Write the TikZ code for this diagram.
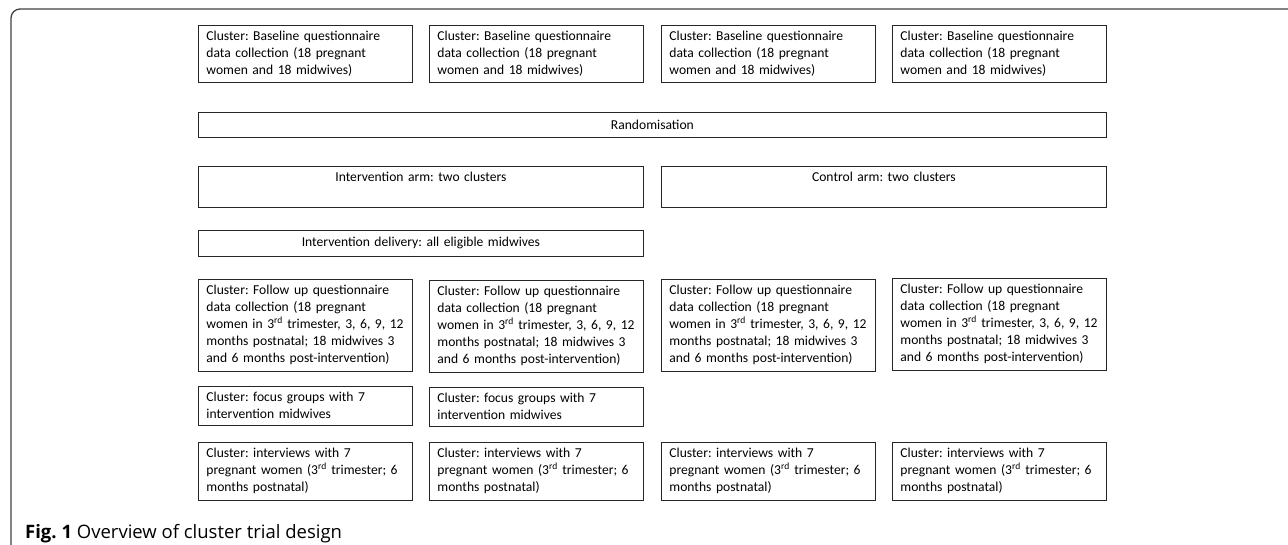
\documentclass[tikz,border=0pt]{standalone}
\usepackage{fontspec}
\setmainfont{Carlito}
\newfontfamily\capfont{Open Sans}
\usepackage{tikz}
\frenchspacing
\hyphenpenalty=10000
\exhyphenpenalty=10000
\hbadness=10000
\hfuzz=20pt

\newcommand{\basetxt}{Cluster: Baseline questionnaire\\ data collection (18 pregnant\\ women and 18 midwives)}
\newcommand{\followtxt}{Cluster: Follow up questionnaire\\ data collection (18 pregnant\\ \mbox{women in 3\textsuperscript{rd} trimester, 3, 6, 9, 12}\\ months postnatal; 18 midwives 3\\ and 6 months post-intervention)}
\newcommand{\focustxt}{Cluster: focus groups with 7\\ intervention midwives}
\newcommand{\intvtxt}{Cluster: interviews with 7\\ \mbox{pregnant women (3\textsuperscript{rd} trimester; 6}\\ months postnatal)}

\begin{document}
\begin{tikzpicture}[x=1pt, y=-1pt,
    box/.style={draw=black!85, line width=0.8pt, anchor=north west,
      inner xsep=8pt, inner ysep=6pt, text width=198pt, align=left,
      font=\fontsize{13.6}{17}\selectfont},
    widebox/.style={box, text width=#1, align=center}]
      \useasboundingbox (0,0) rectangle (1288,544);
      % frame
      \draw[black!75, line width=1.3pt, rounded corners=9pt] (11,570) -- (11,9) -- (1300,9);

      \node[box] (base1) at (198,25){\basetxt};
      \node[box] (base2) at (429,25){\basetxt};
      \node[box] (base3) at (661,25){\basetxt};
      \node[box] (base4) at (892,25){\basetxt};

      \node[widebox=892pt, minimum height=25pt] (rand) at (198,112){Randomisation};

      \node[widebox=429pt, text depth=20pt] (armI) at (198,166){Intervention arm: two clusters};
      \node[widebox=429pt, text depth=20pt] (armC) at (661,166){Control arm: two clusters};

      \node[widebox=429pt, minimum height=26pt] (deliv) at (198,230){Intervention delivery: all eligible midwives};

      \node[box] (follow1) at (198,279){\followtxt};
      \node[box] (follow2) at (429,280){\followtxt};
      \node[box] (follow3) at (661,279){\followtxt};
      \node[box] (follow4) at (892,278){\followtxt};

      \node[box] (focus1) at (198,386){\focustxt};
      \node[box] (focus2) at (429,387){\focustxt};

      \node[box] (intv1) at (198,442){\intvtxt};
      \node[box] (intv2) at (429,442){\intvtxt};
      \node[box] (intv3) at (661,442){\intvtxt};
      \node[box] (intv4) at (892,442){\intvtxt};

      \node[anchor=base west, inner sep=0pt, font=\capfont\fontsize{18.5}{22}\selectfont] (cap) at (25,538){\textbf{Fig. 1} Overview of cluster trial design};
    \end{tikzpicture}
\end{document}
